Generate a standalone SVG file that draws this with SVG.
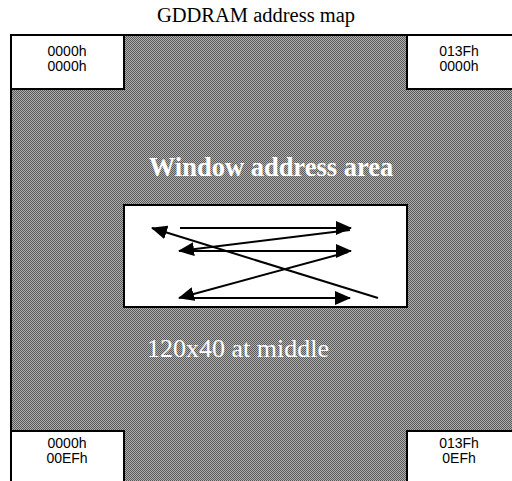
<svg xmlns="http://www.w3.org/2000/svg" width="512" height="481" viewBox="0 0 512 481">
<defs>
<pattern id="chk" width="2" height="2" patternUnits="userSpaceOnUse">
<rect width="2" height="2" fill="#b0b0b0"/>
<rect width="1" height="1" fill="#585858"/>
<rect x="1" y="1" width="1" height="1" fill="#585858"/>
</pattern>
<marker id="ah" viewBox="0 0 16 14" refX="15" refY="7" markerWidth="16" markerHeight="14" markerUnits="userSpaceOnUse" orient="auto">
<path d="M0,0 L16,7 L0,14 Z" fill="#000"/>
</marker>
<style>
.box{fill:#fff;stroke:#000;stroke-width:2}
.lbl{font-family:"Liberation Sans",Arial,sans-serif;font-size:14px;fill:#000;text-anchor:middle}
.ar{stroke:#000;stroke-width:2;fill:none;marker-end:url(#ah)}
</style>
</defs>
<rect width="512" height="481" fill="#fff"/>
<text x="256" y="22" font-family="Liberation Serif,serif" font-size="20.5" text-anchor="middle" fill="#000">GDDRAM address map</text>
<g id="area">
<rect x="11" y="35" width="510" height="460" fill="url(#chk)" stroke="#000" stroke-width="2"/>
</g>
<g id="tl"><rect class="box" x="11" y="35" width="113" height="54"/><text class="lbl" x="67" y="56">0000h</text><text class="lbl" x="67" y="71">0000h</text></g>
<g id="tr"><rect class="box" x="407" y="35" width="115" height="54"/><text class="lbl" x="459" y="56">013Fh</text><text class="lbl" x="459" y="71">0000h</text></g>
<g id="bl"><rect class="box" x="11" y="431" width="113" height="60"/><text class="lbl" x="67" y="448">0000h</text><text class="lbl" x="67" y="463">00EFh</text></g>
<g id="br"><rect class="box" x="407" y="431" width="115" height="60"/><text class="lbl" x="459" y="448">013Fh</text><text class="lbl" x="459" y="463">0EFh</text></g>
<text x="271" y="176" font-family="Liberation Serif,serif" font-size="26.5" font-weight="bold" text-anchor="middle" fill="#fff">Window address area</text>
<g id="window"><rect class="box" x="124" y="205" width="283" height="102"/></g>
<text x="147" y="357" font-family="Liberation Serif,serif" font-size="26" fill="#fff">120x40 at middle</text>
<g id="connectors">
<line class="ar" x1="180" y1="228" x2="351" y2="228"/>
<line class="ar" x1="350" y1="230" x2="179" y2="251"/>
<line class="ar" x1="183" y1="251" x2="351" y2="251"/>
<line class="ar" x1="348" y1="252" x2="179" y2="298"/>
<line class="ar" x1="183" y1="298" x2="350" y2="298"/>
<line class="ar" x1="378" y1="298" x2="152" y2="228"/>
</g>
</svg>
